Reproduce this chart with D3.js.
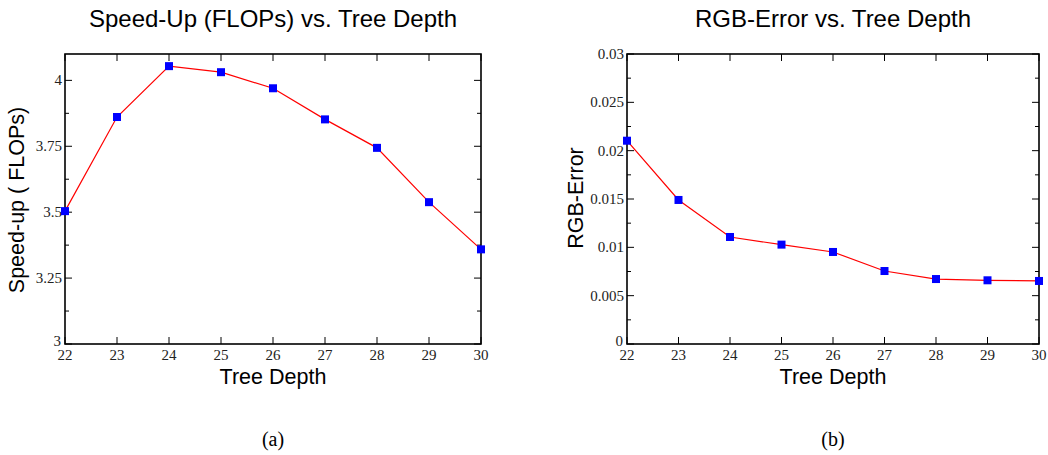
<!DOCTYPE html>
<html><head><meta charset="utf-8">
<script src="https://cdn.jsdelivr.net/npm/d3@7"></script>
<style>body{margin:0;background:#fff}svg{display:block}</style>
</head><body>
<svg id="c" width="1048" height="455"></svg>
<script>
const depths = [22, 23, 24, 25, 26, 27, 28, 29, 30];
const speedUp = [3.504, 3.861, 4.054, 4.031, 3.970, 3.852, 3.744, 3.538, 3.359];
const rgbError = [0.02103, 0.01490, 0.01107, 0.01028, 0.00952, 0.00755, 0.00672, 0.00659, 0.00652];
const speedTicks = [3, 3.25, 3.5, 3.75, 4];
const speedTickLabels = ["3", "3.25", "3.5", "3.75", "4"];
const errTicks = [0, 0.005, 0.01, 0.015, 0.02, 0.025, 0.03];
const errTickLabels = ["0", "0.005", "0.01", "0.015", "0.02", "0.025", "0.03"];

const svg = d3.select("#c");
const sans = "'Liberation Sans', Arial, sans-serif";
const serif = "'Liberation Serif', 'Times New Roman', serif";

function panel(o) {
  const g = svg.append("g");
  const x = d3.scaleLinear().domain([22, 30]).range([o.left, o.right]);
  const y = d3.scaleLinear().domain(o.ydom).range([o.bottom, o.top]);
  const W = o.right - o.left, H = o.bottom - o.top;
  const majorLen = 7, minorLen = 4;
  const tk = g.append("g").attr("stroke", "#000").attr("stroke-width", 1);
  depths.forEach(d => {
    tk.append("line").attr("x1", x(d)).attr("x2", x(d)).attr("y1", o.bottom).attr("y2", o.bottom - majorLen);
    tk.append("line").attr("x1", x(d)).attr("x2", x(d)).attr("y1", o.top).attr("y2", o.top + majorLen);
  });
  o.minors.forEach(v => {
    tk.append("line").attr("x1", o.left).attr("x2", o.left + minorLen).attr("y1", y(v)).attr("y2", y(v));
    tk.append("line").attr("x1", o.right).attr("x2", o.right - minorLen).attr("y1", y(v)).attr("y2", y(v));
  });
  o.ticks.forEach(v => {
    tk.append("line").attr("x1", o.left).attr("x2", o.left + majorLen).attr("y1", y(v)).attr("y2", y(v));
    tk.append("line").attr("x1", o.right).attr("x2", o.right - majorLen).attr("y1", y(v)).attr("y2", y(v));
  });
  g.append("rect").attr("x", o.left).attr("y", o.top).attr("width", W).attr("height", H)
    .attr("fill", "none").attr("stroke", "#000").attr("stroke-width", 1.6);
  g.append("g").selectAll("text").data(depths).join("text")
    .attr("x", x).attr("y", o.bottom + 16).attr("text-anchor", "middle")
    .attr("font-family", serif).attr("font-size", 15).attr("fill", "#222").text(d => d);
  g.append("g").selectAll("text").data(o.ticks).join("text")
    .attr("x", (v, i) => o.left - (i === 0 ? 4 : 3)).attr("y", (v, i) => y(v) + (i === 0 ? 2 : 5))
    .attr("text-anchor", "end")
    .attr("font-family", serif).attr("font-size", 15).attr("fill", "#222")
    .text((v, i) => o.labels[i]);
  const line = d3.line().x((d, i) => x(depths[i])).y(d => y(d));
  g.append("path").datum(o.values).attr("d", line).attr("fill", "none")
    .attr("stroke", "#ff0000").attr("stroke-width", 1.2);
  const s = 8;
  g.append("g").selectAll("rect").data(o.values).join("rect")
    .attr("x", (d, i) => x(depths[i]) - s / 2).attr("y", d => y(d) - s / 2)
    .attr("width", s).attr("height", s).attr("fill", "#0000ff");
  const cx = (o.left + o.right) / 2;
  g.append("text").attr("x", cx).attr("y", 27).attr("text-anchor", "middle")
    .attr("font-family", sans).attr("font-size", 24).attr("fill", "#000").text(o.title);
  g.append("text").attr("x", cx).attr("y", 384).attr("text-anchor", "middle")
    .attr("font-family", sans).attr("font-size", 21.5).attr("fill", "#000").text("Tree Depth");
  g.append("text").attr("transform", `translate(${o.ylabX},${o.ylabY}) rotate(-90)`)
    .attr("text-anchor", "middle").attr("font-family", sans).attr("font-size", 21.5)
    .attr("fill", "#000").text(o.ylabel);
  g.append("text").attr("x", cx).attr("y", 446).attr("text-anchor", "middle")
    .attr("font-family", serif).attr("font-size", 20).attr("fill", "#000").text(o.caption);
}

panel({left: 65, right: 481, top: 54, bottom: 344, ydom: [3, 4.1],
  ticks: speedTicks, labels: speedTickLabels,
  minors: [3.125, 3.375, 3.625, 3.875],
  values: speedUp, title: "Speed-Up (FLOPs) vs. Tree Depth",
  ylabel: "Speed-up ( FLOPs)", ylabX: 24, ylabY: 200, caption: "(a)"});
panel({left: 627, right: 1039, top: 54, bottom: 344, ydom: [0, 0.03],
  ticks: errTicks, labels: errTickLabels,
  minors: [0.0025, 0.0075, 0.0125, 0.0175, 0.0225, 0.0275],
  values: rgbError, title: "RGB-Error vs. Tree Depth",
  ylabel: "RGB-Error", ylabX: 583, ylabY: 198, caption: "(b)"});
</script>
</body></html>
